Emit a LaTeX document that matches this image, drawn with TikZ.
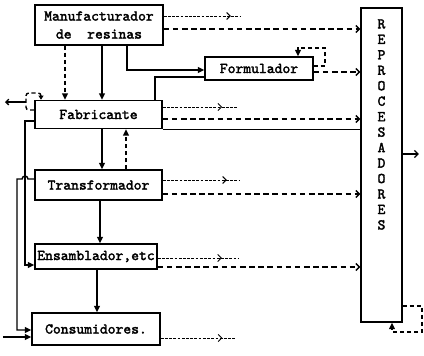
\documentclass[tikz,border=0pt]{standalone}
\usepackage{fontspec}
\setmonofont{Latin Modern Mono}[AutoFakeBold=2.2]
\usetikzlibrary{arrows.meta}
\usetikzlibrary{decorations.markings}

\tikzset{
  proc/.style={draw, line width=1pt, align=center, inner sep=1pt,
    font=\ttfamily\bfseries\fontsize{10.6}{12.8}\selectfont},
  plain/.style={line width=1pt},
  flow/.style={line width=1pt, -{Triangle[length=4.5pt,width=4pt]}},
  dflow/.style={flow, dash pattern=on 3pt off 2pt},
  scrap/.style={line width=1pt, dash pattern=on 4pt off 2.5pt,
    -{Straight Barb[length=2.5pt,width=5pt]}},
  leak/.style={line width=0.7pt, dash pattern=on 2pt off 1pt,
    postaction={decorate},
    decoration={markings, mark=at position #1 with {\arrow{Straight Barb[length=2.5pt,width=5pt]}}}},
}

\begin{document}
\begin{tikzpicture}[x=0.025cm, y=-0.025cm]
\useasboundingbox (0,0) rectangle (424,356);

% cadena de produccion
\node[proc, minimum width=3.2cm, minimum height=1cm] (manu) at (99,25) {Manufacturador\\de\ \ resinas};
\node[proc, minimum width=2.7cm, minimum height=0.575cm] (formu) at (259,68.5) {Formulador};
\node[proc, minimum width=3.175cm, minimum height=0.7cm] (fabri) at (98.5,114.5) {Fabricante};
\node[proc, minimum width=3.175cm, minimum height=0.75cm] (transf) at (98.5,185) {Transformador};
\node[proc, minimum width=3.05cm, minimum height=0.625cm] (ensam) at (96,256.5) {Ensamblador,etc};
\node[proc, minimum width=3.2cm, minimum height=0.8cm] (consu) at (96,329) {Consumidores.};

% reprocesadores
\node[proc, minimum width=1.025cm, minimum height=7.85cm] (repro) at (381.5,165) {};
\node[anchor=north, align=center, inner sep=0pt,
  font=\ttfamily\bfseries\fontsize{10.6}{11}\selectfont] (reprotxt) at (381.5,19)
  {R\\E\\P\\R\\O\\C\\E\\S\\A\\D\\O\\R\\E\\S};

% flujo vertical
\draw[dflow] (manu.south -| 65,0) -- (fabri.north -| 65,0);
\draw[flow] (manu.south -| 102,0) -- (fabri.north -| 102,0);
\draw[flow] (fabri.south -| 102,0) -- (transf.north -| 102,0);
\draw[dflow] (transf.north -| 126,0) -- (fabri.south -| 126,0);
\draw[flow] (transf.south -| 100,0) -- (ensam.north -| 100,0);
\draw[flow] (ensam.south -| 97,0) -- (consu.north -| 97,0);

% formulador
\draw[flow] (manu.south -| 127,0) |- (formu.west |- 0,70);
\draw[plain] (formu.west |- 0,77) -| (fabri.north -| 155,0);
\draw[dflow] (formu.east |- 0,66) -- (325,66) |- (298,48) -- (formu.north -| 298,0);
\draw[scrap] (formu.east |- 0,72) -- (repro.west |- 0,72);

% perdidas y desechos
\coordinate (manuend) at (240,16);
\draw[leak=0.88] (manu.east |- manuend) -- (manuend);
\draw[scrap] (manu.east |- 0,29) -- (repro.west |- 0,29);

\coordinate (fabriend) at (237,107);
\draw[leak=0.8] (fabri.east |- fabriend) -- (fabriend);
\draw[scrap] (fabri.east |- 0,119) -- (repro.west |- 0,119);
\draw[plain] (fabri.south east) -- (repro.west |- fabri.south east);

\coordinate (transfend) at (240,180);
\draw[leak=0.83] (transf.east |- transfend) -- (transfend);
\draw[scrap] (transf.east |- 0,194) -- (repro.west |- 0,194);

\coordinate (ensamend) at (238,258);
\draw[leak=0.8] (ensam.east |- ensamend) -- (ensamend);
\draw[scrap] (ensam.east |- 0,267) -- (repro.west |- 0,267);

\coordinate (consuend) at (236,338);
\draw[leak=0.82] (consu.east |- consuend) -- (consuend);

% salida y retorno de reprocesadores
\coordinate (reproend) at (419,154);
\draw[plain, -{Straight Barb[length=2.5pt,width=5pt]}] (repro.east |- reproend) -- (reproend);
\draw[dflow] (repro.east |- 0,306) -- (422,306) |- (392,332) -- (repro.south -| 392,0);

% lado izquierdo
\draw[dflow, rounded corners=2pt, -{Triangle[length=3pt,width=3.5pt]}]
  (fabri.west |- 0,110) -- (26,110) -- (26,93) -- (41,93) -- (fabri.north -| 41,0);
\coordinate (brace) at (26,102);
\coordinate (fabriout) at (5,102);
\draw[plain, -{Straight Barb[length=2pt,width=4pt]}] (brace) -- (fabriout);

\draw[flow] (fabri.west |- 0,121) -- (25,121) -- (25,265) -- (ensam.west |- 0,265);
\draw[flow] (transf.west |- 0,179) -- (28,179) arc[start angle=0, end angle=180, radius=2.1pt]
  -- (17,179) -- (17,330) -- (consu.west |- 0,330);
\coordinate (consuin) at (3,337);
\draw[flow] (consuin) -- (consu.west |- consuin);
\end{tikzpicture}
\end{document}
